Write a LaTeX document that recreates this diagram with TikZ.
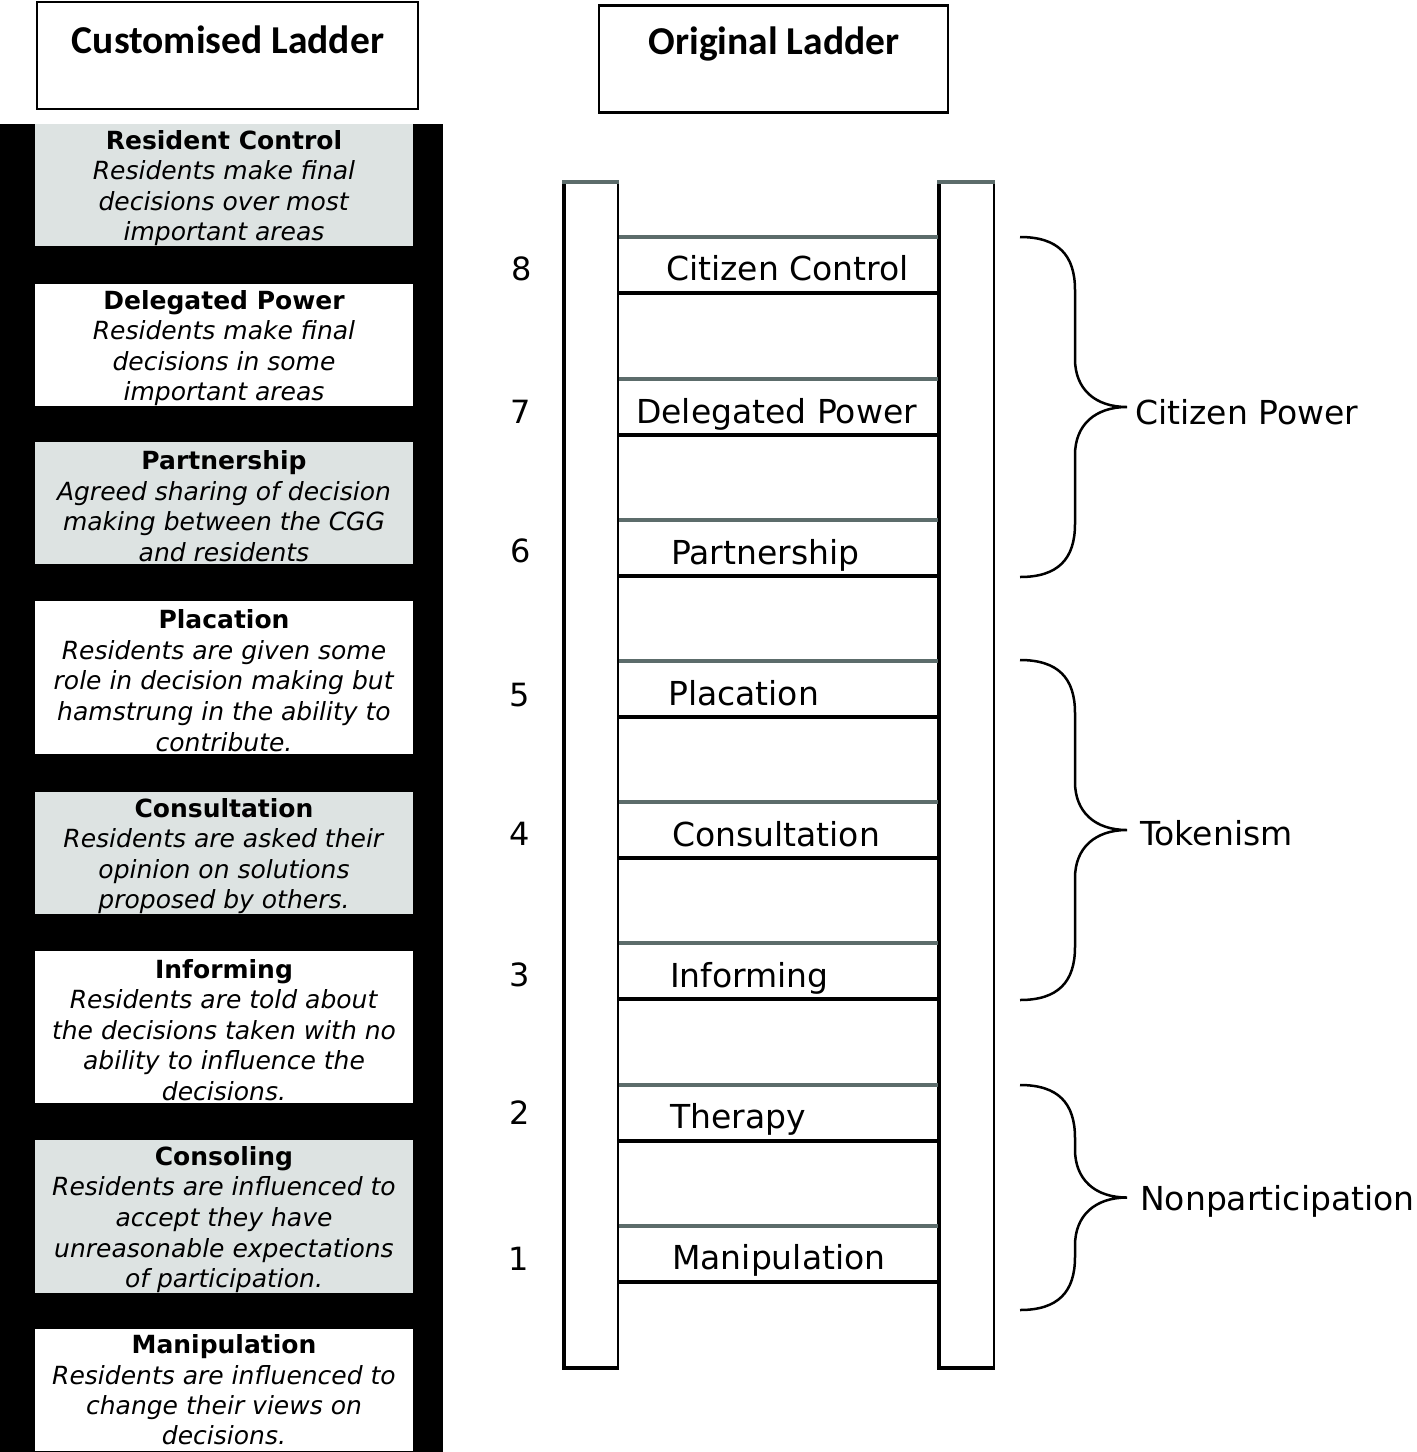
\documentclass[tikz,border=0pt]{standalone}
\usepackage{fontspec}
\setmainfont{DejaVu Sans}
\newfontfamily\ttlfont{Carlito}
\definecolor{boxgrey}{RGB}{221,227,226}
\definecolor{runggrey}{RGB}{92,108,107}
\newcommand\myTopStrut{\rule{0pt}{25pt}}
\begin{document}
\begin{tikzpicture}[x=1pt,y=-1pt,
  titlebox/.style={draw=black,line width=2.5pt,minimum width=#1,minimum height=107pt,inner sep=0pt},
  titletext/.style={font=\ttlfont\bfseries\fontsize{39.5}{42}\selectfont,inner sep=0pt},
  descbox/.style={minimum width=378pt,minimum height=#1,inner sep=0pt,align=center,
     font=\fontsize{25}{30.6}\selectfont},
  greybox/.style={descbox=#1,fill=boxgrey},
  whitebox/.style={descbox=#1,fill=white},
  lbl/.style={font=\fontsize{33}{36}\selectfont,inner sep=0pt,anchor=base west},
  num/.style={font=\fontsize{32}{36}\selectfont,inner sep=0pt,anchor=base},
  railedge/.style={draw=black,line width=2pt},
  gline/.style={draw=runggrey,line width=4pt},
  bline/.style={draw=black,line width=4.5pt},
  bracestyle/.style={draw=black,line width=2.5pt}
]
\useasboundingbox (0,0) rectangle (1417,1452);
\fill[white] (0,0) rectangle (1417,1452);

% title boxes
\node[titlebox=381pt] (ctb) at (227.5,55.5) {};
\node[titletext] (ctt) at (228,40) {Customised Ladder};
\node[titlebox=349pt] (otb) at (773.5,59) {};
\node[titletext] (ott) at (774,44) {Original Ladder};

% black column
\fill[black] (0,124) rectangle (443,1452);

% customised ladder boxes
\node[greybox=122pt] (c8) at (224,185) {\myTopStrut\textbf{Resident Control}\\\textit{Residents make final}\\\textit{decisions over most}\\\textit{important areas}};
\node[whitebox=122pt] (c7) at (224,345) {\myTopStrut\textbf{Delegated Power}\\\textit{Residents make final}\\\textit{decisions in some}\\\textit{important areas}};
\node[greybox=122pt] (c6) at (224,503) {\myTopStrut\textbf{Partnership}\\\textit{Agreed sharing of decision}\\\textit{making between the CGG}\\\textit{and residents}};
\node[whitebox=153pt] (c5) at (224,677.5) {\myTopStrut\textbf{Placation}\\\textit{Residents are given some}\\\textit{role in decision making but}\\\textit{hamstrung in the ability to}\\\textit{contribute.}};
\node[greybox=122pt] (c4) at (224,853) {\myTopStrut\textbf{Consultation}\\\textit{Residents are asked their}\\\textit{opinion on solutions}\\\textit{proposed by others.}};
\node[whitebox=152pt] (c3) at (224,1027) {\myTopStrut\textbf{Informing}\\\textit{Residents are told about}\\\textit{the decisions taken with no}\\\textit{ability to influence the}\\\textit{decisions.}};
\node[greybox=153pt] (c2) at (224,1216.5) {\myTopStrut\textbf{Consoling}\\\textit{Residents are influenced to}\\\textit{accept they have}\\\textit{unreasonable expectations}\\\textit{of participation.}};
\node[whitebox=122pt,font=\fontsize{25}{30.3}\selectfont] (c1) at (224,1390) {\textbf{Manipulation}\\\textit{Residents are influenced to}\\\textit{change their views on}\\\textit{decisions.}};

% ladder rails
\foreach \xa/\xb in {564/618, 939/994}{
  \draw[railedge] (\xa,181) rectangle (\xb,1368);
  \draw[draw=black,line width=4pt] (\xa,181) -- (\xa,1368);
  \draw[draw=black,line width=4pt] (\xa-2,1368) -- (\xb+1,1368);
  \draw[gline] (\xa-2,182) -- (\xb+1,182);
}

% rungs
\foreach \yt in {237,379,520,661,802,943,1085,1226}{
  \draw[gline] (619,\yt) -- (938,\yt);
  \draw[bline] (619,\yt+56) -- (938,\yt+56);
}

% rung labels
\node[lbl] (r8) at (666,280) {Citizen Control};
\node[lbl] (r7) at (636,423) {Delegated Power};
\node[lbl] (r6) at (671,564) {Partnership};
\node[lbl] (r5) at (668,705) {Placation};
\node[lbl] (r4) at (672,846) {Consultation};
\node[lbl] (r3) at (670,987) {Informing};
\node[lbl] (r2) at (670,1128) {Therapy};
\node[lbl] (r1) at (672,1269) {Manipulation};

% numbers
\node[num] (n8) at (522,280) {8};
\node[num] (n7) at (521,423) {7};
\node[num] (n6) at (521,562) {6};
\node[num] (n5) at (520,706) {5};
\node[num] (n4) at (520,845) {4};
\node[num] (n3) at (520,986) {3};
\node[num] (n2) at (520,1124) {2};
\node[num] (n1) at (519,1270) {1};

% braces
\foreach \t/\b/\nm in {237/577/cp, 660/1000/tk, 1085/1310/np}{
  \pgfmathsetmacro{\m}{(\t+\b)/2}
  \coordinate (\nm top) at (1020,\t);
  \coordinate (\nm tip) at (1127,\m);
  \coordinate (\nm bot) at (1020,\b);
  \draw[bracestyle] (\nm top) .. controls (1058,\t) and (1075,\t+18) .. (1075,\t+53)
     -- (1075,\m-48) .. controls (1075,\m-18) and (1095,\m) .. (\nm tip)
     .. controls (1095,\m) and (1075,\m+18) .. (1075,\m+48)
     -- (1075,\b-53) .. controls (1075,\b-18) and (1058,\b) .. (\nm bot);
}
\node[lbl] (cpl) at (1135,424) {Citizen Power};
\node[lbl] (tkl) at (1140,845) {Tokenism};
\node[lbl] (npl) at (1140,1210) {Nonparticipation};
\end{tikzpicture}
\end{document}
